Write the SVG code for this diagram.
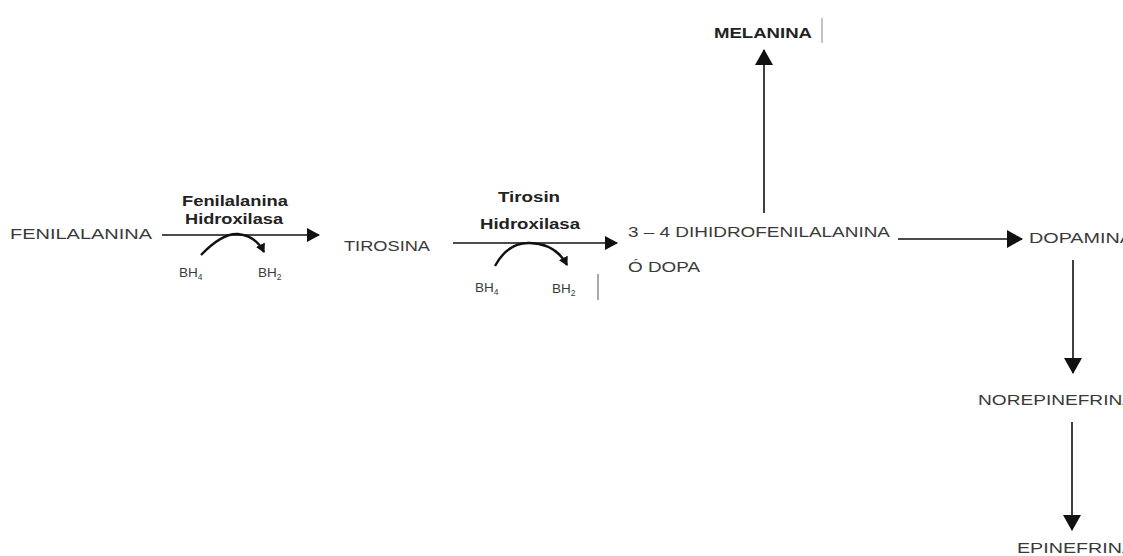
<svg xmlns="http://www.w3.org/2000/svg" width="1123" height="556" viewBox="0 0 1123 556">
<style>
.t{font-family:"Liberation Sans",Arial,sans-serif;font-size:14.5px;fill:#3a3a3a}
.c{font-family:"Liberation Sans",Arial,sans-serif;font-size:13.5px;fill:#3a3a3a}
.b{font-family:"Liberation Sans",Arial,sans-serif;font-size:14px;font-weight:bold;fill:#222}
.s{font-size:8.5px}
.ln{stroke:#111;stroke-width:1.6;fill:none}
.cv{stroke:#111;stroke-width:2.4;fill:none}
</style>
<defs>
<marker id="ah" markerWidth="14" markerHeight="16" refX="12" refY="8" orient="auto" markerUnits="userSpaceOnUse">
<path d="M0,1 L13,8 L0,15 Z" fill="#111"/>
</marker>
<marker id="ahs" markerWidth="10" markerHeight="10" refX="8" refY="5" orient="auto" markerUnits="userSpaceOnUse">
<path d="M0,0 L9,5 L0,10 Z" fill="#111"/>
</marker>
<marker id="ahv" markerWidth="18" markerHeight="18" refX="15" refY="9" orient="auto" markerUnits="userSpaceOnUse">
<path d="M0,0 L16,9 L0,18 Z" fill="#111"/>
</marker>
</defs>
<rect width="1123" height="556" fill="#fff"/>
<g id="connectors">
<line class="ln" x1="162" y1="235" x2="319" y2="235" marker-end="url(#ah)"/>
<path class="cv" d="M201,255 Q222,233 238,234 Q256,236 264,252" marker-end="url(#ahs)"/>
<line class="ln" x1="453" y1="243" x2="617" y2="243" marker-end="url(#ah)"/>
<path class="cv" d="M495,266 Q508,242 530,243 Q556,244 567,265" marker-end="url(#ahs)"/>
<line class="ln" x1="764" y1="213" x2="764" y2="50" marker-end="url(#ahv)"/>
<line class="ln" x1="898" y1="239" x2="1022" y2="239" marker-end="url(#ahv)"/>
<line class="ln" x1="1073" y1="260" x2="1073" y2="373" marker-end="url(#ahv)"/>
<line class="ln" x1="1072" y1="422" x2="1072" y2="530" marker-end="url(#ahv)"/>
<line stroke="#555" stroke-width="1" x1="598" y1="274" x2="598" y2="300"/>
<line stroke="#888" stroke-width="1" x1="822" y1="18" x2="822" y2="43"/>
</g>
<g id="fenilalanina"><text class="t" x="10" y="239" textLength="142" lengthAdjust="spacingAndGlyphs">FENILALANINA</text></g>
<g id="enzima1">
<text class="b" x="182" y="206" textLength="106" lengthAdjust="spacingAndGlyphs">Fenilalanina</text>
<text class="b" x="185" y="224" textLength="98" lengthAdjust="spacingAndGlyphs">Hidroxilasa</text>
</g>
<g id="cof1">
<text class="c" x="179" y="277">BH<tspan class="s" dy="3">4</tspan></text>
<text class="c" x="258" y="277">BH<tspan class="s" dy="3">2</tspan></text>
</g>
<g id="tirosina"><text class="t" x="344" y="251" textLength="86" lengthAdjust="spacingAndGlyphs">TIROSINA</text></g>
<g id="enzima2">
<text class="b" x="498" y="202" textLength="62" lengthAdjust="spacingAndGlyphs">Tirosin</text>
<text class="b" x="480" y="229" textLength="100" lengthAdjust="spacingAndGlyphs">Hidroxilasa</text>
</g>
<g id="cof2">
<text class="c" x="475" y="292">BH<tspan class="s" dy="3">4</tspan></text>
<text class="c" x="552" y="293">BH<tspan class="s" dy="3">2</tspan></text>
</g>
<g id="dopa">
<text class="t" x="628" y="237" textLength="262" lengthAdjust="spacingAndGlyphs">3 – 4 DIHIDROFENILALANINA</text>
<text class="t" x="628" y="272" textLength="72" lengthAdjust="spacingAndGlyphs">Ó DOPA</text>
</g>
<g id="melanina"><text class="t" x="714" y="38" textLength="98" lengthAdjust="spacingAndGlyphs" style="font-weight:bold;fill:#222">MELANINA</text></g>
<g id="dopamina"><text class="t" x="1029" y="243" textLength="104" lengthAdjust="spacingAndGlyphs">DOPAMINA</text></g>
<g id="norepinefrina"><text class="t" x="978" y="405" textLength="157" lengthAdjust="spacingAndGlyphs">NOREPINEFRINA</text></g>
<g id="epinefrina"><text class="t" x="1017" y="553" textLength="118" lengthAdjust="spacingAndGlyphs">EPINEFRINA</text></g>
</svg>
